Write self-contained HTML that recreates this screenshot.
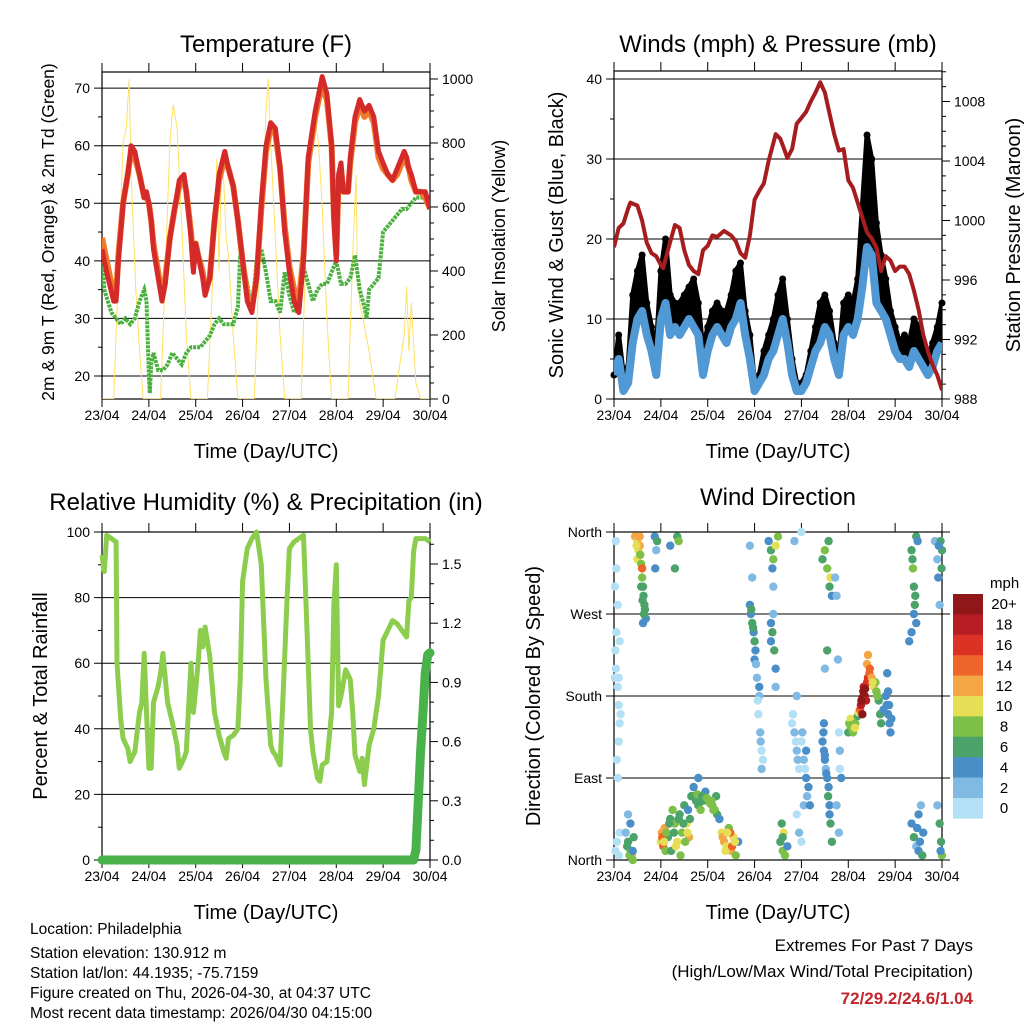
<!DOCTYPE html>
<html><head><meta charset="utf-8"><style>
body{margin:0;background:#fff;}
svg text{font-family:"Liberation Sans",sans-serif;fill:#000;}
</style></head><body>
<svg id="s" width="1024" height="1024" viewBox="0 0 1024 1024" xmlns="http://www.w3.org/2000/svg">
<g id="g"></g>
<text x="266" y="52" font-size="24" text-anchor="middle">Temperature (F)</text>
<text x="778" y="52" font-size="24" text-anchor="middle">Winds (mph) &amp; Pressure (mb)</text>
<text x="266" y="510" font-size="24" text-anchor="middle">Relative Humidity (%) &amp; Precipitation (in)</text>
<text x="778" y="505" font-size="24" text-anchor="middle">Wind Direction</text>
<text x="266" y="458" font-size="20" text-anchor="middle">Time (Day/UTC)</text>
<text x="778" y="458" font-size="20" text-anchor="middle">Time (Day/UTC)</text>
<text x="266" y="919" font-size="20" text-anchor="middle">Time (Day/UTC)</text>
<text x="778" y="919" font-size="20" text-anchor="middle">Time (Day/UTC)</text>
<text transform="translate(54,232) rotate(-90)" font-size="17.5" text-anchor="middle">2m &amp; 9m T (Red, Orange) &amp; 2m Td (Green)</text>
<text transform="translate(505,236) rotate(-90)" font-size="18" text-anchor="middle">Solar Insolation (Yellow)</text>
<text transform="translate(563,235) rotate(-90)" font-size="20" text-anchor="middle">Sonic Wind &amp; Gust (Blue, Black)</text>
<text transform="translate(1020,235) rotate(-90)" font-size="20" text-anchor="middle">Station Pressure (Maroon)</text>
<text transform="translate(47,696) rotate(-90)" font-size="20" text-anchor="middle">Percent &amp; Total Rainfall</text>
<text transform="translate(540,696) rotate(-90)" font-size="20" text-anchor="middle">Direction (Colored By Speed)</text>
<text x="990" y="588" font-size="15">mph</text>
<g font-size="15.5">
<text x="30" y="934">Location: Philadelphia</text>
<text x="30" y="958">Station elevation: 130.912 m</text>
<text x="30" y="978">Station lat/lon: 44.1935; -75.7159</text>
<text x="30" y="998">Figure created on Thu, 2026-04-30, at 04:37 UTC</text>
<text x="30" y="1018">Most recent data timestamp: 2026/04/30 04:15:00</text>
</g>
<g font-size="17" text-anchor="end">
<text x="973" y="951">Extremes For Past 7 Days</text>
<text x="973" y="977">(High/Low/Max Wind/Total Precipitation)</text>
<text x="973" y="1004" font-weight="bold" style="fill:#c0262b">72/29.2/24.6/1.04</text>
</g>
</svg>
<script>
// ---- data ----
const dayLabels=["23/04","24/04","25/04","26/04","27/04","28/04","29/04","30/04"];
const tDays=[0,0.1,0.25,0.3,0.35,0.45,0.55,0.62,0.7,0.8,0.9,0.95,1.0,1.05,1.1,1.2,1.28,1.35,1.45,1.55,1.65,1.75,1.8,1.9,1.95,2.0,2.05,2.15,2.2,2.3,2.4,2.5,2.62,2.7,2.8,2.9,3.0,3.1,3.2,3.3,3.4,3.5,3.6,3.7,3.8,3.9,4.0,4.1,4.2,4.3,4.4,4.55,4.65,4.7,4.8,4.9,4.95,5.0,5.05,5.1,5.15,5.25,5.3,5.4,5.5,5.6,5.7,5.8,5.9,6.0,6.1,6.2,6.3,6.45,6.5,6.55,6.6,6.7,6.8,6.9,7.0];
const temp2m=[42,38,33,33,40,50,55,60,59,55,51,52,50,47,42,37,33,36,44,49,54,55,52,44,38,43,41,37,34,37,47,55,59,56,53,47,40,33,31,37,50,60,64,63,56,45,38,33,31,40,58,66,70,72,69,60,47,40,55,57,52,52,58,65,68,66,67,65,59,57,55,54,56,59,58,56,55,52,52,52,49];
const temp9m=[44,40,34,34,41,50,55,59,58,55,51,51,50,47,43,38,34,37,44,49,53,54,52,45,39,43,41,38,35,37,47,54,58,56,53,47,40,34,32,37,49,59,63,62,56,46,39,35,33,41,57,65,69,70,68,60,48,41,54,56,52,52,57,64,67,65,66,64,58,56,55,54,55,58,57,56,54,52,52,51,49];
const tdDays=[0,0.05,0.2,0.3,0.4,0.5,0.6,0.7,0.8,0.9,0.95,1.0,1.02,1.05,1.1,1.2,1.3,1.4,1.5,1.6,1.7,1.8,1.9,2.0,2.1,2.2,2.3,2.4,2.5,2.6,2.7,2.8,2.9,2.95,3.0,3.1,3.2,3.3,3.4,3.5,3.6,3.7,3.8,3.9,4.0,4.1,4.2,4.3,4.4,4.5,4.6,4.7,4.8,4.9,5.0,5.1,5.2,5.3,5.4,5.5,5.6,5.65,5.7,5.8,5.9,6.0,6.1,6.2,6.3,6.4,6.5,6.6,6.7,6.8,6.9,7.0];
const dewpoint=[42,35,31,30,29,30,29,30,33,35,33,20,17,22,24,21,21,22,24,23,22,24,25,25,25,26,27,29,30,29,29,29,32,41,40,36,31,40,42,38,33,33,31,38,34,31,32,39,36,33,35,36,36,38,40,36,36,37,41,35,32,30,35,36,37,45,46,47,48,49,49,50,51,51,51,49];
const solarDays=[0,0.25,0.35,0.45,0.52,0.58,0.62,0.72,0.8,0.88,1.25,1.35,1.45,1.52,1.6,1.7,1.8,1.9,2.25,2.4,2.45,2.5,2.55,2.6,2.65,2.7,2.8,2.9,3.25,3.35,3.45,3.5,3.55,3.6,3.7,3.8,3.9,4.25,4.35,4.45,4.55,4.62,4.7,4.8,4.9,5.25,5.35,5.42,5.45,5.5,5.6,5.7,5.8,5.85,6.25,6.35,6.45,6.5,6.55,6.6,6.7,6.8,7.0];
const solar=[0,0,400,800,850,1000,700,350,150,0,0,400,800,920,850,550,200,0,0,500,750,400,750,680,500,450,200,0,0,400,700,900,1000,800,500,200,0,0,450,800,870,800,600,250,0,0,450,700,400,300,230,150,50,0,0,100,200,350,150,300,50,0,0];
const wDays=[0,0.1,0.2,0.3,0.4,0.5,0.6,0.7,0.8,0.9,1.0,1.1,1.2,1.3,1.4,1.5,1.6,1.7,1.8,1.9,2.0,2.1,2.2,2.3,2.4,2.5,2.6,2.7,2.8,2.9,3.0,3.1,3.2,3.3,3.4,3.5,3.6,3.7,3.8,3.9,4.0,4.1,4.2,4.3,4.4,4.5,4.6,4.7,4.8,4.9,5.0,5.1,5.2,5.3,5.4,5.5,5.6,5.7,5.8,5.9,6.0,6.1,6.2,6.3,6.4,6.5,6.6,6.7,6.8,6.9,7.0];
const windSpd=[3,5,1,2,7,10,11,8,6,3,10,12,8,9,8,9,10,9,8,3,6,8,9,8,7,9,10,12,8,5,1,2,3,5,6,8,10,7,3,1,1,2,4,6,7,9,8,5,3,8,9,8,10,14,19,18,12,11,10,8,6,5,5,4,6,5,4,3,4,6,7];
const windGust=[3,8,3,4,13,16,18,12,9,6,16,20,13,12,12,13,14,15,12,6,9,11,12,11,11,13,16,17,11,8,2,3,6,8,10,13,15,10,5,2,2,3,6,9,12,13,11,7,5,12,13,12,15,24,33,30,22,18,15,11,9,7,8,7,10,9,7,5,7,9,12];
const pDays=[0,0.1,0.2,0.3,0.35,0.5,0.6,0.7,0.8,0.9,1.0,1.05,1.15,1.3,1.4,1.5,1.6,1.7,1.8,1.9,2.0,2.1,2.2,2.35,2.5,2.6,2.7,2.8,2.9,3.0,3.1,3.2,3.3,3.45,3.55,3.7,3.8,3.9,4.0,4.1,4.2,4.3,4.4,4.5,4.6,4.7,4.8,4.9,5.0,5.1,5.2,5.3,5.4,5.5,5.6,5.7,5.8,5.9,6.0,6.1,6.2,6.3,6.4,6.5,6.6,6.7,6.8,6.9,7.0];
const pressure=[998.2,999.5,999.8,1000.8,1001.2,1001,1000,998.5,997.8,997.6,997,996.8,998,999.7,999.5,998,997,996.6,996.4,998,998.3,999,998.9,999.3,999,998.6,997.8,997.5,999,1001.4,1002,1002.5,1004,1005.8,1005.5,1004.2,1004.8,1006.5,1006.9,1007.3,1008,1008.6,1009.3,1008.6,1007.2,1005.8,1004.7,1004.8,1002.7,1002.2,1001.2,1000.2,999.2,998.8,998.2,996.6,997.6,997.3,996.6,996.9,996.9,996.4,995.3,994,992.3,991.2,990.3,989.6,988.6];
const rhDays=[0,0.05,0.1,0.2,0.3,0.32,0.4,0.45,0.55,0.6,0.7,0.8,0.85,0.9,0.95,1.0,1.05,1.1,1.2,1.25,1.3,1.4,1.5,1.6,1.65,1.75,1.8,1.85,1.9,1.95,2.0,2.05,2.1,2.15,2.2,2.3,2.4,2.5,2.6,2.65,2.7,2.8,2.9,2.95,3.0,3.1,3.2,3.3,3.4,3.5,3.6,3.65,3.7,3.8,3.9,3.95,4.0,4.1,4.2,4.3,4.4,4.45,4.5,4.6,4.65,4.7,4.8,4.9,4.95,5.0,5.05,5.1,5.2,5.3,5.35,5.4,5.5,5.55,5.6,5.7,5.8,5.9,6.0,6.1,6.2,6.3,6.4,6.5,6.55,6.6,6.65,6.7,6.8,6.9,7.0];
const rh=[93,88,99,98,97,60,43,37,34,30,33,45,48,63,45,28,28,48,53,57,63,48,42,35,28,31,33,47,60,45,52,60,70,65,71,62,45,38,33,31,37,38,40,55,85,95,98,100,90,55,35,33,32,29,62,80,95,97,98,99,60,40,33,25,24,29,30,45,78,90,47,50,58,55,45,32,27,31,23,35,40,50,67,70,73,72,70,68,79,80,94,98,98,98,97];
const rainDays=[0,6.65,6.7,6.75,6.8,6.85,6.9,6.95,7.0];
const rain=[0,0,0.05,0.3,0.55,0.75,0.95,1.04,1.05];
const wdDay=[0.02,0.03,0.05,0.04,0.08,0.1,0.12,0.1,0.06,0.08,0.02,0.05,0.04,0.08,0.12,0.1,0.14,0.03,0.06,0.1,0.12,
0.25,0.3,0.35,0.35,0.38,0.3,0.4,
0.45,0.5,0.52,0.55,0.5,0.58,0.6,0.62,0.63,0.65,0.6,0.55,0.66,0.68,
0.87,0.9,0.88,0.92,
1.0,1.02,1.05,1.08,1.1,1.15,1.2,1.25,1.3,1.35,1.4,1.45,1.5,1.55,1.6,1.22,1.42,1.58,
1.2,1.35,1.38,1.3,
1.65,1.7,1.75,1.8,1.85,1.9,1.95,2.0,2.05,2.1,2.15,2.2,2.25,1.8,2.18,
2.3,2.35,2.4,2.45,2.5,2.55,2.6,2.65,2.48,
2.9,2.92,2.95,2.98,3.0,3.02,2.9,2.95,3.05,3.1,3.08,3.12,3.15,3.0,3.1,3.15,
3.3,3.35,3.4,3.45,3.5,3.38,3.4,3.35,3.38,3.42,3.45,3.35,3.4,3.45,
3.55,3.6,3.62,3.58,3.65,3.7,3.6,
3.8,3.85,3.9,3.95,4.0,4.05,4.1,4.15,3.9,3.95,4.0,4.05,3.9,3.85,4.0,4.1,
4.45,4.48,4.5,4.52,4.55,4.58,4.6,4.62,4.65,4.48,4.45,4.5,4.55,4.6,4.65,4.58,4.62,4.5,4.55,
4.72,4.75,4.78,4.8,4.82,4.75,4.8,4.85,4.82,
5.0,5.02,5.05,5.08,5.1,5.12,5.15,5.2,5.22,
5.25,5.27,5.3,5.32,5.35,5.38,5.3,5.33,5.4,5.42,5.45,5.4,5.42,
5.5,5.55,5.6,5.65,5.68,5.7,5.58,
5.8,5.82,5.85,5.88,5.9,5.85,5.83,
6.35,6.38,6.4,6.42,6.45,6.48,6.3,6.35,6.4,6.45,
6.35,6.4,6.45,6.5,6.55,6.6,6.5,6.58,
6.85,6.9,6.92,6.95,6.97,7.0,6.95,6.98,7.0,6.9,
0.48,0.52,0.56,0.58,0.61,0.64,0.62,0.28,0.33,0.4,0.42,
1.03,1.07,1.12,1.18,1.28,1.32,1.38,1.48,1.52,1.57,1.62,
1.7,1.78,1.88,1.98,2.08,2.12,2.32,2.38,2.42,2.52,2.58,
2.93,2.97,3.03,3.07,3.13,3.18,3.82,3.88,3.92,4.02,4.08,4.12,4.18,
4.47,4.5,4.53,4.57,4.6,5.04,5.14,5.28,5.36,5.46,5.52,5.62,5.75,5.87,5.92,
6.37,6.43,6.47,6.53,6.93,6.99,6.97];
const wdDir=[200,230,250,210,190,170,150,130,110,90,300,320,350,280,240,200,160,10,20,5,30,
30,20,10,40,5,50,0,
355,350,340,345,330,325,310,300,290,280,320,355,275,265,
355,340,320,350,
20,30,15,35,10,25,45,55,40,20,50,30,60,40,25,10,5,55,
345,355,350,320,
70,80,65,60,55,65,75,65,62,60,55,50,45,90,70,
30,20,15,35,10,25,5,20,30,
280,270,260,250,240,230,345,310,200,180,160,140,120,220,190,100,
350,340,330,345,355,320,300,240,250,230,210,260,270,190,
20,10,30,40,5,15,25,
150,140,120,100,130,110,90,80,50,30,20,60,180,350,360,120,
130,120,110,100,90,80,60,40,20,150,330,340,320,300,290,350,310,210,230,
310,290,220,140,100,60,30,90,120,
140,150,155,145,140,148,150,158,162,
165,170,178,185,180,175,160,190,195,200,205,215,225,
200,190,185,175,160,150,195,
180,170,160,150,140,185,205,
340,320,300,280,355,350,240,250,270,260,
40,25,15,50,60,30,10,5,
350,330,310,280,350,340,40,20,5,60,
345,355,335,300,285,270,260,15,5,10,25,
25,20,30,40,30,15,45,40,20,30,45,
70,72,70,68,65,55,25,10,30,15,20,
275,255,215,175,130,110,160,130,110,140,100,70,60,
140,115,95,70,50,148,145,175,188,210,195,180,165,170,155,
330,290,35,20,345,320,10];
const wdSpd=[1,1,0,1,0,1,1,0,1,0,1,0,1,1,0,1,0,1,0,1,0,
3,6,8,4,12,2,8,
12,10,10,12,10,8,8,6,6,6,14,12,6,4,
4,2,4,6,
10,12,14,12,8,6,6,8,8,10,6,8,6,10,12,6,8,4,
4,6,8,6,
6,4,6,6,8,6,4,6,8,8,8,6,4,4,6,
10,12,10,8,12,10,8,4,14,
4,4,6,4,6,4,2,2,2,2,0,2,0,4,4,2,
4,6,8,10,8,4,2,4,6,6,4,4,2,2,
6,8,10,6,8,4,6,
0,2,2,0,0,2,4,4,0,2,0,2,2,2,0,4,
4,4,4,2,4,4,4,6,6,4,6,8,8,6,4,6,10,2,6,
2,2,2,0,0,2,2,4,2,
6,8,10,8,8,6,8,6,10,
14,18,20,20,20,18,20,18,16,16,14,12,12,
12,10,8,6,6,6,8,
4,4,4,4,4,4,4,
6,8,6,6,6,4,4,4,4,4,
4,6,2,4,2,4,4,6,
2,2,4,2,6,6,6,6,8,2,
10,12,8,6,6,6,4,6,8,4,6,
14,10,8,6,6,10,6,6,8,10,6,
6,8,6,8,8,8,12,10,10,14,10,
6,6,2,0,2,0,0,0,2,2,0,2,4,
4,4,4,6,4,8,10,20,20,14,10,8,4,4,4,
6,6,4,4,4,6,4];
const cbLabels=["20+","18","16","14","12","10","8","6","4","2","0"];
const cbColors=["#8f1619","#b81d23","#dc3226","#ee6429","#f4a645","#e6df55","#7cc04a","#4ba36a","#4a8ec8","#80b9e2","#b3e0f5"];

// ---- helpers ----
const NS="http://www.w3.org/2000/svg";
const G=document.getElementById('g');
function mk(tag,attrs,parent){const e=document.createElementNS(NS,tag);for(const k in attrs)e.setAttribute(k,attrs[k]);(parent||G).appendChild(e);return e;}
function lin(d0,d1,r0,r1){return v=>r0+(v-d0)/(d1-d0)*(r1-r0);}
function pathOf(xs,ys,fx,fy){return xs.map((x,i)=>(i?'L':'M')+fx(x).toFixed(1)+','+fy(ys[i]).toFixed(1)).join('');}
function txt(x,y,s,size,anchor,parent){const t=mk('text',{x:x,y:y,'font-size':size,'text-anchor':anchor||'middle'},parent);t.textContent=s;return t;}

function frame(L,R,T,B,fx,name){
  const g=mk('g',{});
  
  
  mk('rect',{x:L,y:T,width:R-L,height:B-T,fill:'none',stroke:'#000','stroke-width':1.2},g);
  for(let d=0;d<=7;d++){const x=fx(d);
    mk('line',{x1:x,y1:B,x2:x,y2:B+8,stroke:'#000'},g);
    mk('line',{x1:x,y1:T,x2:x,y2:T-9,stroke:'#000'},g);
    const t=txt(x,B+21,dayLabels[d],14,'middle',g);
    
    
  }
  return g;
}
function leftAxis(g,L,R,ticks,labels,fy,minor,grid,ext){
  ticks.forEach((v,i)=>{const y=fy(v);
    mk('line',{x1:L-8,y1:y,x2:grid?R+(ext||0):L,y2:y,stroke:'#000','stroke-width':1},g);
    txt(L-12,y+5,labels[i],14,'end',g);});
  (minor||[]).forEach(v=>{const y=fy(v);mk('line',{x1:L-4,y1:y,x2:L,y2:y,stroke:'#000'},g);});
}
function rightAxis(g,R,ticks,labels,fy,minor){
  ticks.forEach((v,i)=>{const y=fy(v);
    mk('line',{x1:R,y1:y,x2:R+8,y2:y,stroke:'#000'},g);
    txt(R+12,y+5,labels[i],14,'start',g);});
  (minor||[]).forEach(v=>{const y=fy(v);mk('line',{x1:R,y1:y,x2:R+4,y2:y,stroke:'#000'},g);});
}

// ---- Temperature panel ----
(function(){
  const L=102,R=430,B=399;
  const fx=lin(0,7,L,R), fy=lin(16,72.8,B,72), fs=lin(0,1000,B,79);
  const clip=mk('clipPath',{id:'c1'});mk('rect',{x:L,y:72,width:R-L,height:B-72},clip);
  const g=frame(L,R,72,B,fx,'temperature');
  leftAxis(g,L,R,[20,30,40,50,60,70],["20","30","40","50","60","70"],fy,[25,35,45,55,65],true);
  rightAxis(g,R,[0,200,400,600,800,1000],["0","200","400","600","800","1000"],fs,[50,100,150,250,300,350,450,500,550,650,700,750,850,900,950]);
  const p=mk('path',{d:pathOf(solarDays,solar,fx,fs),fill:'none',stroke:'#ffe066','stroke-width':1,'clip-path':'url(#c1)'});
  
  const dp=mk('path',{d:pathOf(tdDays,dewpoint,fx,fy),fill:'none',stroke:'#4cb040','stroke-width':4,'stroke-dasharray':'3 1','clip-path':'url(#c1)'});
  
  const o=mk('path',{d:pathOf(tDays,temp9m,fx,fy),fill:'none',stroke:'#f07a2a','stroke-width':6,'stroke-linejoin':'round','clip-path':'url(#c1)'});
  
  const r=mk('path',{d:pathOf(tDays,temp2m,fx,fy),fill:'none',stroke:'#d42a2a','stroke-width':5,'stroke-linejoin':'round','clip-path':'url(#c1)'});
  
})();

// ---- Wind panel ----
(function(){
  const L=614,R=942,B=399;
  const fx=lin(0,7,L,R), fy=lin(0,40,B,79), fp=lin(988,1008,B,101.5);
  const clip=mk('clipPath',{id:'c2'});mk('rect',{x:L,y:71,width:R-L,height:B-71},clip);
  const g=frame(L,R,71,B,fx,'wind');
  leftAxis(g,L,R,[0,10,20,30,40],["0","10","20","30","40"],fy,[5,15,25,35],true);
  rightAxis(g,R,[988,992,996,1000,1004,1008],["988","992","996","1000","1004","1008"],fp,[989,990,991,993,994,995,997,998,999,1001,1002,1003,1005,1006,1007,1009,1010]);
  // gust band: between sustained and gust
  const up=wDays.map((d,i)=>fx(d).toFixed(1)+','+fy(windGust[i]).toFixed(1));
  const dn=wDays.map((d,i)=>fx(d).toFixed(1)+','+fy(windSpd[i]).toFixed(1)).reverse();
  const band=mk('polygon',{points:up.concat(dn).join(' '),fill:'#000',stroke:'#000','stroke-width':5,'stroke-linejoin':'round','clip-path':'url(#c2)'});
  
  wDays.forEach((d,i)=>{const c=mk('circle',{cx:fx(d),cy:fy(windGust[i]),r:3.5,fill:'#000'});
    });
  const bl=mk('path',{d:pathOf(wDays,windSpd,fx,fy),fill:'none',stroke:'#5199d4','stroke-width':8,'stroke-linejoin':'round','clip-path':'url(#c2)'});
  
  const pl=mk('path',{d:pathOf(pDays,pressure,fx,fp),fill:'none',stroke:'#a51d1f','stroke-width':4,'stroke-linejoin':'round','clip-path':'url(#c2)'});
  
})();

// ---- RH panel ----
(function(){
  const L=102,R=430,T=532,B=860;
  const fx=lin(0,7,L,R), fy=lin(0,100,B,T), fr=lin(0,1.5,B,564);
  const g=frame(L,R,T,B,fx,'humidity');
  leftAxis(g,L,R,[0,20,40,60,80,100],["0","20","40","60","80","100"],fy,[10,30,50,70,90],true);
  rightAxis(g,R,[0,0.3,0.6,0.9,1.2,1.5],["0.0","0.3","0.6","0.9","1.2","1.5"],fr,[0.1,0.2,0.4,0.5,0.7,0.8,1.0,1.1,1.3,1.4,1.6]);
  const h=mk('path',{d:pathOf(rhDays,rh,fx,fy),fill:'none',stroke:'#8ccd4e','stroke-width':5,'stroke-linejoin':'round'});
  
  const rn=mk('path',{d:pathOf(rainDays,rain,fx,fr),fill:'none',stroke:'#4ab24a','stroke-width':9,'stroke-linejoin':'round','stroke-linecap':'round'});
  
})();

// ---- Wind direction panel ----
(function(){
  const L=614,R=942,T=532,B=860;
  const fx=lin(0,7,L,R), fy=lin(0,360,B,T);
  const g=frame(L,R,T,B,fx,'wind-direction');
  leftAxis(g,L,R,[0,90,180,270,360],["North","East","South","West","North"],fy,[],true,8);
  function col(s){const idx=Math.min(10,Math.floor(s/2));return cbColors[10-idx];}
  wdDay.forEach((d,i)=>{const c=mk('circle',{cx:fx(d),cy:fy(wdDir[i]),r:4.2,fill:col(wdSpd[i])});
    });
  const cb=mk('g',{});
  
  const h=20.4;
  cbColors.forEach((c,i)=>{mk('rect',{x:953,y:594+i*h,width:30,height:h+0.3,fill:c},cb);
    txt(1004,594+i*h+h/2+5,cbLabels[i],15,'middle',cb);});
})();
</script>
</body></html>
